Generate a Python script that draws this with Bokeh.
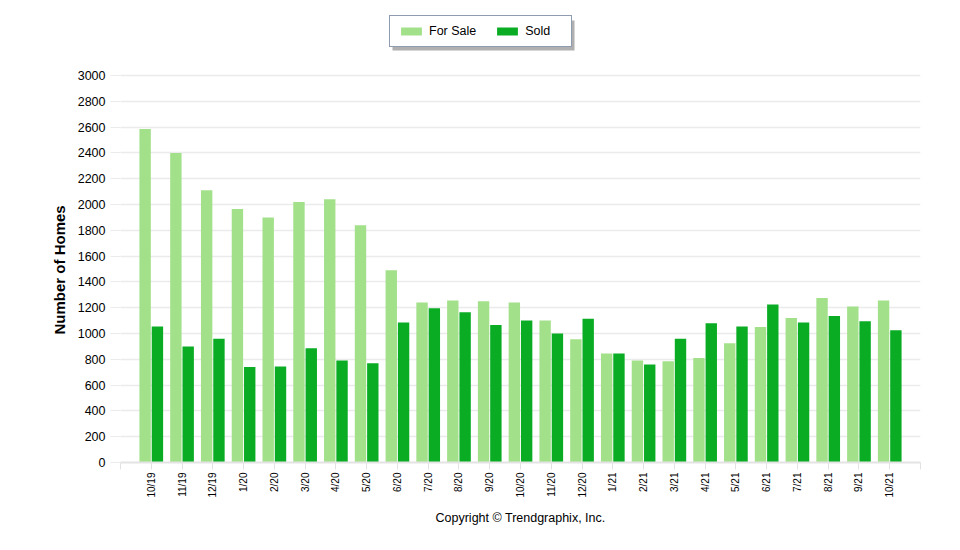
import math
from bokeh.plotting import figure
from bokeh.models import (Range1d, FixedTicker, Legend, LegendItem, ColumnDataSource,
                          Title, BoxAnnotation)
from bokeh.transform import dodge
from bokeh.embed import file_html
from bokeh.resources import INLINE

months = ["10/19", "11/19", "12/19", "1/20", "2/20", "3/20", "4/20", "5/20", "6/20",
          "7/20", "8/20", "9/20", "10/20", "11/20", "12/20", "1/21", "2/21", "3/21",
          "4/21", "5/21", "6/21", "7/21", "8/21", "9/21", "10/21"]
for_sale = [2585, 2400, 2110, 1965, 1900, 2020, 2040, 1840, 1490,
            1240, 1255, 1250, 1240, 1100, 955, 845, 790, 785,
            810, 925, 1050, 1120, 1275, 1210, 1255]
sold = [1055, 900, 960, 740, 745, 885, 790, 770, 1085,
        1195, 1165, 1065, 1100, 1000, 1115, 845, 760, 960,
        1080, 1055, 1225, 1085, 1135, 1095, 1025]
y_ticks = list(range(0, 3001, 200))

FS_COLOR = "#a2e08a"
SOLD_COLOR = "#0aac24"
GRID = "#ebebeb"
FONT = "Liberation Sans"

# layout (pixels)
W, H = 960, 550
FRAME_TOP, FRAME_BOTTOM, AXIS_TOP_PX = 8, 462, 75
y_max = y_ticks[-1] * (FRAME_BOTTOM - FRAME_TOP) / (FRAME_BOTTOM - AXIS_TOP_PX)

idx = list(range(len(months)))
src = ColumnDataSource(dict(x=idx, months=months, for_sale=for_sale, sold=sold))

p = figure(width=W, height=H, output_backend="svg", toolbar_location=None,
           x_range=Range1d(-1, len(months)), y_range=Range1d(0, y_max),
           min_border_left=120, min_border_right=40, min_border_top=FRAME_TOP,
           min_border_bottom=H - FRAME_BOTTOM)
p.outline_line_color = None
p.background_fill_color = "white"

r_fs = p.vbar(x=dodge("x", -0.2), top="for_sale", width=0.37, source=src,
              fill_color=FS_COLOR, line_color=None)
r_sold = p.vbar(x=dodge("x", 0.2), top="sold", width=0.37, source=src,
                fill_color=SOLD_COLOR, line_color=None)

# x axis
xt = [-1] + idx + [len(months)]
p.xaxis.ticker = FixedTicker(ticks=xt)
overrides = {i: m for i, m in zip(idx, months)}
overrides[-1] = ""
overrides[len(months)] = ""
p.xaxis.major_label_overrides = overrides
p.xaxis.major_label_orientation = math.pi / 2
p.xaxis.major_label_text_font = FONT
p.xaxis.major_label_text_font_size = "10px"
p.xaxis.major_label_text_color = "#000000"
p.xaxis.major_label_standoff = 3
p.xaxis.axis_line_color = "#e3e3e3"
p.xaxis.axis_line_width = 2
p.xaxis.major_tick_line_color = "#e3e3e3"
p.xaxis.major_tick_in = 0
p.xaxis.major_tick_out = 7
p.xaxis.minor_tick_line_color = None
p.xaxis.axis_label = "Copyright © Trendgraphix, Inc."
p.xaxis.axis_label_text_font = FONT
p.xaxis.axis_label_text_font_style = "normal"
p.xaxis.axis_label_text_font_size = "12.5px"
p.xaxis.axis_label_text_color = "#000000"
p.xaxis.axis_label_standoff = 10

# y axis
p.yaxis.ticker = FixedTicker(ticks=y_ticks)
p.yaxis.axis_line_color = None
p.yaxis.major_tick_line_color = GRID
p.yaxis.major_tick_in = 0
p.yaxis.major_tick_out = 10
p.yaxis.minor_tick_line_color = None
p.yaxis.major_label_text_font = FONT
p.yaxis.major_label_text_font_size = "12.5px"
p.yaxis.major_label_text_color = "#000000"
p.yaxis.major_label_standoff = 5

# y title, starting from the bottom of the frame, shifted up
ytitle = Title(text="Number of Homes", align="left", offset=128,
               text_font=FONT, text_font_style="bold", text_font_size="15px",
               text_color="#000000", standoff=14)
p.add_layout(ytitle, "left")

p.xgrid.grid_line_color = None
p.ygrid.grid_line_color = GRID
p.ygrid.grid_line_width = 1.5

# legend box drop shadow (canvas pixels)
LEG_L, LEG_T, LEG_W, LEG_H = 389, 17, 182, 30
shadow = BoxAnnotation(left=LEG_L + 3, right=LEG_L + LEG_W + 3,
                       top=LEG_T + 3, bottom=LEG_T + LEG_H + 3,
                       left_units="canvas", right_units="canvas",
                       top_units="canvas", bottom_units="canvas",
                       fill_color="#707070", fill_alpha=0.55, line_color=None)
p.add_layout(shadow)

legend = Legend(items=[LegendItem(label="For Sale", renderers=[r_fs]),
                       LegendItem(label="Sold", renderers=[r_sold])],
                orientation="horizontal",
                location=(LEG_L - 120, FRAME_BOTTOM - (LEG_T + LEG_H)),
                label_text_font=FONT, label_text_font_size="12.5px",
                glyph_width=26, glyph_height=10, label_standoff=5, spacing=18,
                padding=8, margin=0, label_height=12, label_width=38,
                background_fill_color="white", background_fill_alpha=1,
                border_line_color="#1f3864", border_line_width=1.5,
                label_text_color="#000000")
p.add_layout(legend, "center")

open("out.html", "w").write(file_html(p, INLINE))
